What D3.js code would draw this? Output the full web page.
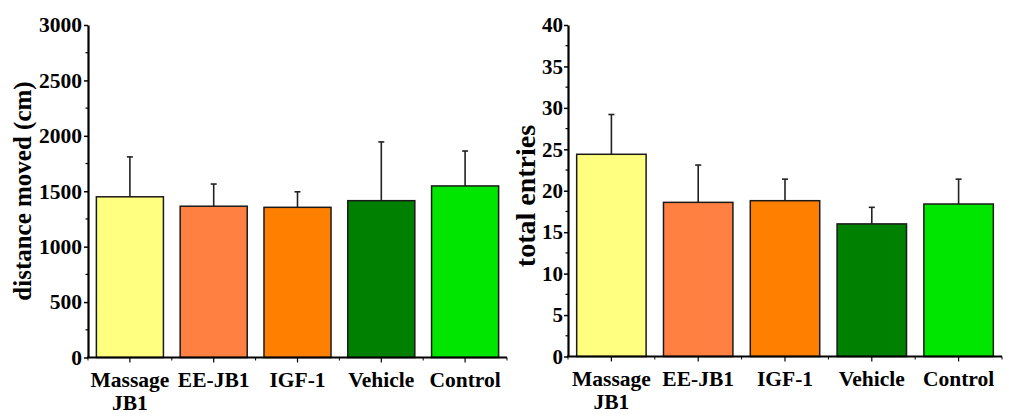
<!DOCTYPE html>
<html>
<head>
<meta charset="utf-8">
<script src="https://cdn.jsdelivr.net/npm/d3@7"></script>
<style>
  html, body { margin: 0; padding: 0; background: #fff; }
  svg text { font-family: "Liberation Serif", "Times New Roman", serif; font-weight: bold; fill: #000; }
</style>
</head>
<body>
<svg id="chart" width="1009" height="416"></svg>
<script>
// Treatment groups and their bar colours
const groups = ["Massage JB1", "EE-JB1", "IGF-1", "Vehicle", "Control"];
const groupColors = ["#FFFF80", "#FF8040", "#FF8000", "#008000", "#00E600"];

// Distance moved (cm): means and error (SD) per group
const distanceMean = [1450, 1365, 1355, 1415, 1548];
const distanceErr  = [360, 200, 140, 530, 315];
const distanceTicks = [0, 500, 1000, 1500, 2000, 2500, 3000];

// Total entries: means and error per group
const entriesMean = [24.4, 18.6, 18.8, 16.0, 18.4];
const entriesErr  = [4.8, 4.5, 2.6, 2.0, 3.0];
const entriesTicks = [0, 5, 10, 15, 20, 25, 30, 35, 40];

const svg = d3.select("#chart");

function drawPanel(opts) {
  const g = svg.append("g");
  const x = d3.scaleBand().domain(groups).range([opts.x0, opts.x1])
    .paddingInner(0.2).paddingOuter(0.1);
  const y = d3.scaleLinear().domain([0, opts.max]).range([opts.yBottom, opts.yTop]);

  // error bars (drawn first so the bar covers the lower part)
  const eb = g.append("g").attr("stroke", "#222").attr("stroke-width", 1.6);
  groups.forEach((grp, i) => {
    const cx = x(grp) + x.bandwidth() / 2;
    eb.append("line").attr("x1", cx).attr("x2", cx)
      .attr("y1", y(opts.mean[i])).attr("y2", y(opts.mean[i] + opts.err[i]));
    eb.append("line").attr("x1", cx - 3).attr("x2", cx + 3)
      .attr("y1", y(opts.mean[i] + opts.err[i])).attr("y2", y(opts.mean[i] + opts.err[i]));
  });

  // bars
  g.append("g").selectAll("rect").data(groups).join("rect")
    .attr("x", d => x(d))
    .attr("width", x.bandwidth())
    .attr("y", (d, i) => y(opts.mean[i]))
    .attr("height", (d, i) => y(0) - y(opts.mean[i]))
    .attr("fill", (d, i) => groupColors[i])
    .attr("stroke", "#1a1a1a")
    .attr("stroke-width", 1.5);

  // y axis: major ticks with labels, minor ticks halfway between
  const step = opts.ticks[1] - opts.ticks[0];
  const minor = opts.ticks.slice(0, -1).map(t => t + step / 2);
  const yAxis = g.append("g").attr("transform", `translate(${opts.x0},0)`);
  yAxis.call(d3.axisLeft(y).tickValues(opts.ticks).tickFormat(d3.format("d"))
      .tickSize(4).tickSizeOuter(0).tickPadding(opts.tickPad))
    .call(a => a.select(".domain").attr("stroke-width", 2.2).attr("stroke", "#000"))
    .call(a => a.selectAll(".tick line").attr("stroke-width", 1.5))
    .call(a => a.selectAll(".tick text").attr("font-size", opts.tickFont)
      .attr("font-family", "Liberation Serif").attr("font-weight", "bold"));
  yAxis.selectAll(".minor").data(minor).join("line")
    .attr("x1", -2.5).attr("x2", 0)
    .attr("y1", d => y(d)).attr("y2", d => y(d))
    .attr("stroke", "#000").attr("stroke-width", 1.2);

  // x axis
  const axY = opts.yBottom;
  g.append("line").attr("x1", opts.x0 - 1).attr("x2", opts.x1)
    .attr("y1", axY).attr("y2", axY).attr("stroke", "#000").attr("stroke-width", 2.2);
  groups.forEach(grp => {
    const cx = x(grp) + x.bandwidth() / 2;
    g.append("line").attr("x1", cx).attr("x2", cx).attr("y1", axY).attr("y2", axY + 5)
      .attr("stroke", "#000").attr("stroke-width", 1.2);
  });
  // small ticks on band boundaries
  const bounds = d3.range(groups.length + 1).map(i => opts.x0 + i * x.step());
  g.append("g").selectAll("line").data(bounds).join("line")
    .attr("x1", d => d).attr("x2", d => d).attr("y1", axY).attr("y2", axY + 3)
    .attr("stroke", "#000").attr("stroke-width", 1);

  // category labels
  groups.forEach(grp => {
    const cx = x(grp) + x.bandwidth() / 2;
    const words = grp === "Massage JB1" ? ["Massage", "JB1"] : [grp];
    const t = g.append("text").attr("text-anchor", "middle").attr("font-size", 21.5)
      .attr("x", cx).attr("y", axY + 29);
    words.forEach((w, k) => {
      t.append("tspan").attr("x", cx).attr("dy", k === 0 ? 0 : 23.5).text(w);
    });
  });

  // y axis title
  g.append("text").attr("font-size", opts.titleFont).attr("text-anchor", "middle")
    .attr("transform", `translate(${opts.titleX},${opts.titleY}) rotate(-90)`)
    .text(opts.title);
}

drawPanel({
  x0: 88, x1: 507, yBottom: 357.5, yTop: 25, max: 3000,
  mean: distanceMean, err: distanceErr, ticks: distanceTicks,
  tickPad: 2, tickFont: 21.5, title: "distance moved (cm)", titleFont: 25,
  titleX: 31, titleY: 191
});

drawPanel({
  x0: 568, x1: 1002, yBottom: 356.5, yTop: 25, max: 40,
  mean: entriesMean, err: entriesErr, ticks: entriesTicks,
  tickPad: 1, tickFont: 21, title: "total entries", titleFont: 28,
  titleX: 535, titleY: 196
});
</script>
</body>
</html>
